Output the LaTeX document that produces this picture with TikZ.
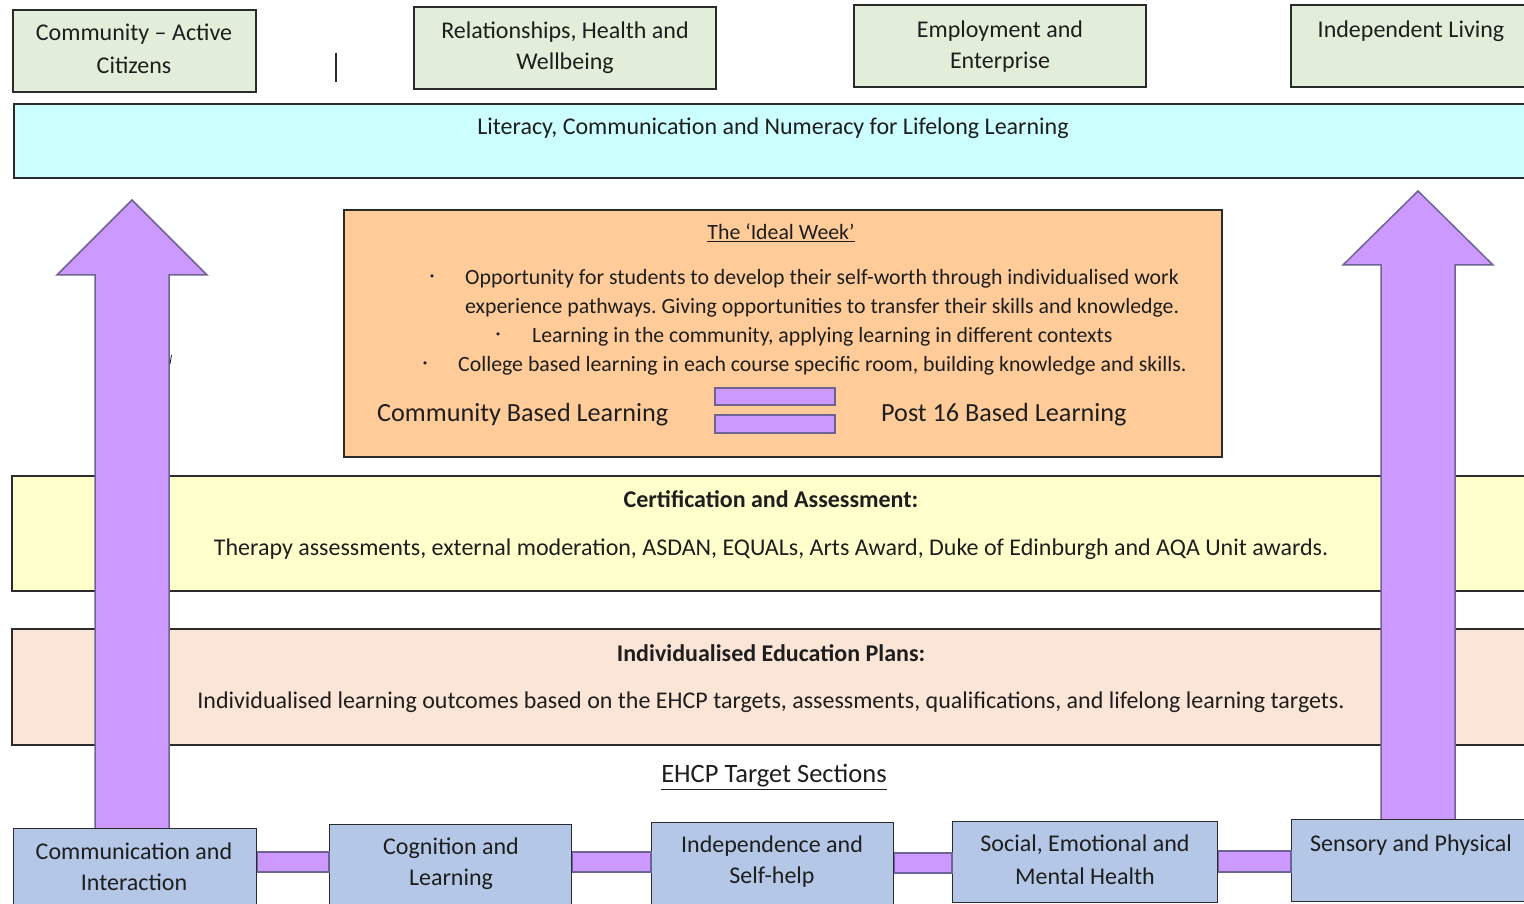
\documentclass[tikz,border=0pt]{standalone}
\usepackage{fontspec}
\setmainfont{Carlito}
\usetikzlibrary{calc}
\frenchspacing
\definecolor{gfill}{HTML}{E2EED9}
\definecolor{cfill}{HTML}{CCFFFF}
\definecolor{ofill}{HTML}{FFCC99}
\definecolor{yfill}{HTML}{FFFFCC}
\definecolor{pfill}{HTML}{FBE5D6}
\definecolor{bfill}{HTML}{B4C7E7}
\definecolor{purp}{HTML}{CC99FF}
\definecolor{purpline}{HTML}{6E6394}
\definecolor{edge}{HTML}{2B2B2B}
\definecolor{txt}{HTML}{1E1E1E}
\tikzset{
  boxg/.style={draw=edge,line width=1.4pt,fill=gfill},
  boxc/.style={draw=edge,line width=1.4pt,fill=cfill},
  boxo/.style={draw=edge,line width=1.4pt,fill=ofill},
  boxy/.style={draw=edge,line width=1.4pt,fill=yfill},
  boxp/.style={draw=edge,line width=1.4pt,fill=pfill},
  boxb/.style={draw=edge,line width=1.4pt,fill=bfill},
  bar/.style={draw=purpline,line width=1.2pt,fill=purp},
  bigarrow/.style={draw=purpline,line width=1.5pt,fill=purp,line join=miter},
  lbl/.style={text=txt,inner sep=0pt,font=\fontsize{24}{29}\selectfont},
  small/.style={text=txt,inner sep=0pt,font=\fontsize{21.8}{26}\selectfont},
  mid/.style={text=txt,inner sep=0pt,font=\fontsize{24}{29}\selectfont},
  large/.style={text=txt,inner sep=0pt,font=\fontsize{26.2}{31}\selectfont},
  ehcpst/.style={text=txt,inner sep=0pt,font=\fontsize{26.5}{31}\selectfont},
}
\newcommand{\bx}[6]{% name, style, x1,y1,x2,y2
  \node[#2,inner sep=0pt,minimum width=#5-#3,minimum height=#6-#4,anchor=north west] (#1) at (#3,#4) {};}
\begin{document}
\begin{tikzpicture}[x=1pt,y=-1pt]
\useasboundingbox[fill=white] (0,0) rectangle (1524,904);
% bands
\path[boxy] (12,476) rectangle (1530,591);
\path[boxp] (12,629) rectangle (1530,745);
% top boxes
\path[boxg] (13,10) rectangle (256,92);
\path[boxg] (414,7) rectangle (716,89);
\path[boxg] (854,5) rectangle (1146,87);
\path[boxg] (1291,5) rectangle (1530,87);
\path[boxc] (14,104) rectangle (1530,178);
\draw[edge,line width=1.3pt] (336,53) -- (336,82);
% top texts
\node[lbl] (t1a) at (134,34) {Community -- Active};
\node[lbl] (t1b) at (134,65) {Citizens};
\node[lbl] (t2a) at (565,32) {Relationships, Health and};
\node[lbl] (t2b) at (565,63) {Wellbeing};
\node[lbl] (t3a) at (1000,31) {Employment and};
\node[lbl] (t3b) at (1000,62) {Enterprise};
\node[lbl] (t4a) at (1411,31) {Independent Living};
\node[lbl] (lit) at (773,128) {Literacy, Communication and Numeracy for Lifelong Learning};
% orange box
\path[boxo] (344,210) rectangle (1222,457);
\node[small] (iw) at (781,233) {\underline{The ‘Ideal Week’}};
\node[small] at (432,279) {·};
\node[small,anchor=west] (b1a) at (465,279) {Opportunity for students to develop their self-worth through individualised work};
\node[small,anchor=west] (b1b) at (465,308) {experience pathways. Giving opportunities to transfer their skills and knowledge.};
\node[small] at (498,337) {·};
\node[small,anchor=west] (b2) at (532,337) {Learning in the community, applying learning in different contexts};
\node[small] at (425,366) {·};
\node[small,anchor=west] (b3) at (458,366) {College based learning in each course specific room, building knowledge and skills.};
\node[large,anchor=west] (cbl) at (377,415) {Community Based Learning};
\node[large,anchor=west] (p16) at (881,415) {Post 16 Based Learning};
\path[bar] (715,388) rectangle (835,405);
\path[bar] (715,415) rectangle (835,433);
% band texts
\node[mid] (ca) at (771,499) {\bfseries Certification and Assessment:};
\node[mid] (cat) at (771,549) {Therapy assessments, external moderation, ASDAN, EQUALs, Arts Award, Duke of Edinburgh and AQA Unit awards.};
\node[mid] (iep) at (771,653) {\bfseries Individualised Education Plans:};
\node[mid] (iept) at (771,702) {Individualised learning outcomes based on the EHCP targets, assessments, qualifications, and lifelong learning targets.};
\node[ehcpst] (ehcp) at (774,777) {\underline{EHCP Target Sections}};
% big arrows
\draw[bigarrow] (95,835) -- (95,275) -- (57,275) -- (132,200) -- (207,275) -- (169,275) -- (169,835) -- cycle;
\draw[bigarrow] (1381,830) -- (1381,265) -- (1343,265) -- (1418,191) -- (1493,265) -- (1455,265) -- (1455,830) -- cycle;
\draw[txt,line width=0.9pt] (171.5,355) -- (170,364);
% bottom boxes
\bx{s1}{boxb}{13}{828}{256}{912}
\bx{s2}{boxb}{329}{824}{571}{912}
\bx{s3}{boxb}{651}{822}{893}{912}
\bx{s4}{boxb}{952}{821}{1217}{902}
\bx{s5}{boxb}{1291}{819}{1532}{901}
\path[bar] (s1.east |- 0,852) rectangle (s2.west |- 0,872);
\path[bar] (s2.east |- 0,852) rectangle (s3.west |- 0,872);
\path[bar] (s3.east |- 0,853) rectangle (s4.west |- 0,873);
\path[bar] (s4.east |- 0,851) rectangle (s5.west |- 0,872);
\node[lbl] at (134,851) {Communication and};
\node[lbl] at (134,882) {Interaction};
\node[lbl] at (451,848) {Cognition and};
\node[lbl] at (451,879) {Learning};
\node[lbl] at (772,846) {Independence and};
\node[lbl] at (772,877) {Self-help};
\node[lbl] at (1085,845) {Social, Emotional and};
\node[lbl] at (1085,876) {Mental Health};
\node[lbl] at (1411,845) {Sensory and Physical};
\end{tikzpicture}
\end{document}
